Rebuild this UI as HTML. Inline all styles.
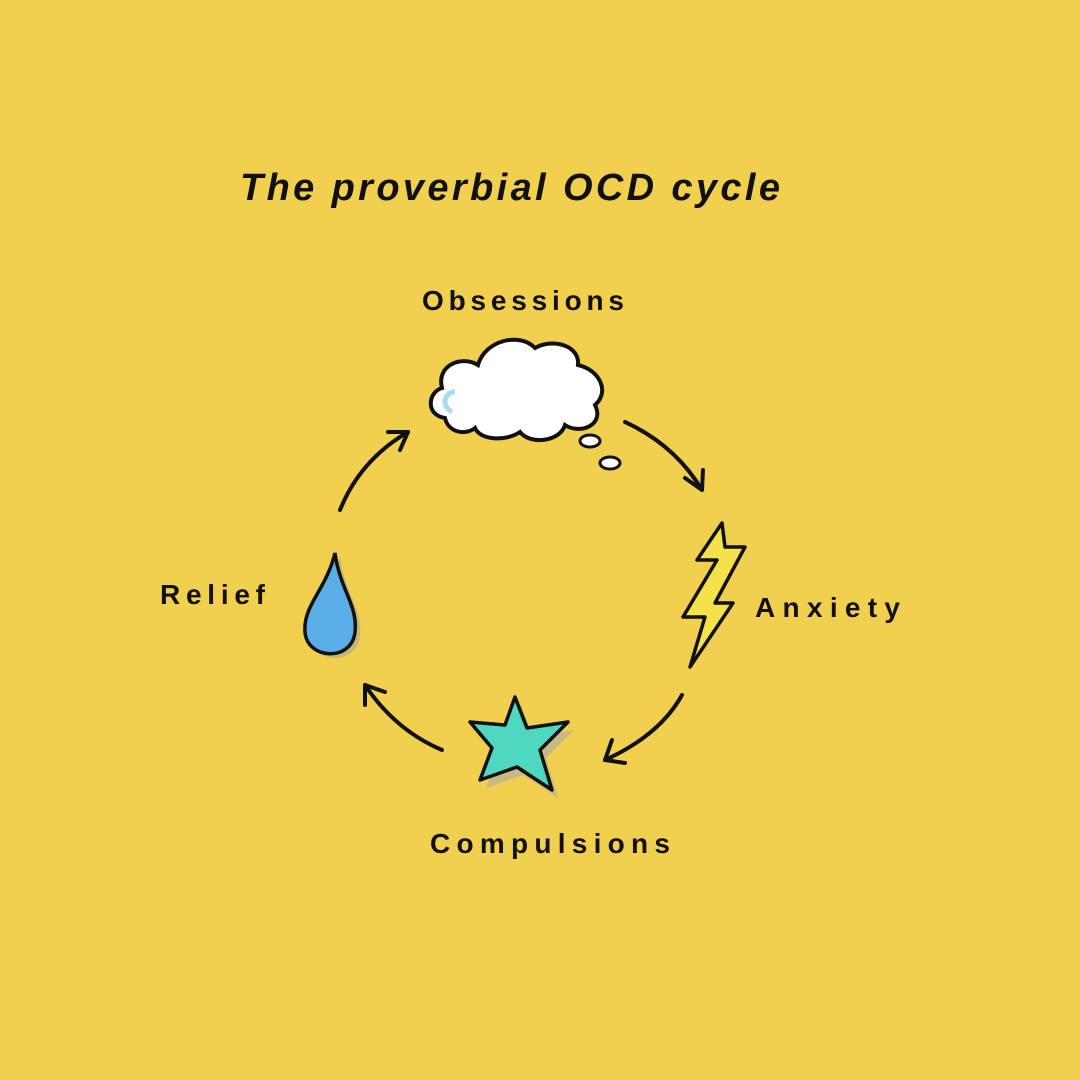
<!DOCTYPE html>
<html><head><meta charset="utf-8"><style>
html,body{margin:0;padding:0;background:#F2D04F;}
svg{display:block}
text{font-family:"Liberation Sans",sans-serif;font-weight:bold;fill:#111;}
</style></head><body>
<svg width="1080" height="1080" viewBox="0 0 1080 1080" xmlns="http://www.w3.org/2000/svg">
<rect width="1080" height="1080" fill="#F2D04F"/>
<text x="240" y="200" font-size="38" font-style="italic" textLength="540">The proverbial OCD cycle</text>
<text x="422" y="310" font-size="28" textLength="202">Obsessions</text>
<text x="755" y="617" font-size="28" textLength="145">Anxiety</text>
<text x="160" y="604" font-size="28" textLength="105">Relief</text>
<text x="430" y="853" font-size="28" textLength="240">Compulsions</text>
<!-- cloud -->
<path d="M445,418 C425,415 428,392 442,388 C436,365 462,355 478,365 C485,340 520,332 535,348 C552,338 580,345 578,365 C600,370 610,392 595,405 C605,425 580,435 565,425 C560,442 530,445 520,432 C505,442 480,440 475,428 C465,436 448,432 445,418 Z" fill="#fff" stroke="#111" stroke-width="4"/>
<path d="M452,412 C440,405 445,392 455,392" fill="none" stroke="#a8dcef" stroke-width="5"/>
<ellipse cx="590" cy="441" rx="10" ry="6" fill="#fff" stroke="#111" stroke-width="3"/>
<ellipse cx="610" cy="463" rx="10" ry="6" fill="#fff" stroke="#111" stroke-width="3"/>
<!-- bolt -->
<polygon points="722,523 697,560 717,560 683,617 705,617 690,667 733,603 715,603 745,547 725,547" fill="#F5E24A" stroke="#111" stroke-width="3.5" stroke-linejoin="round"/>
<!-- star -->
<polygon points="515,697 527,728 568,722 540,750 552,790 517,767 480,780 492,748 470,722 505,725" fill="#aaa" opacity="0.6" transform="translate(6,8)"/>
<polygon points="515,697 527,728 568,722 540,750 552,790 517,767 480,780 492,748 470,722 505,725" fill="#4ED8C0" stroke="#111" stroke-width="3.5" stroke-linejoin="round"/>
<!-- drop -->
<path d="M335,553 C326,590 303,605 305,632 C307,660 352,662 355,632 C358,605 340,590 335,553 Z" fill="#999" opacity="0.5" transform="translate(5,4)"/>
<path d="M335,553 C326,590 303,605 305,632 C307,660 352,662 355,632 C358,605 340,590 335,553 Z" fill="#5AAEE8" stroke="#111" stroke-width="3.5"/>
<!-- arrows -->
<g fill="none" stroke="#111" stroke-width="4" stroke-linecap="round" stroke-linejoin="round">
<path d="M625,422 Q675,445 702,490"/><path d="M685,478 L702,490 L703,470"/>
<path d="M682,695 Q660,735 605,760"/><path d="M612,740 L605,760 L625,763"/>
<path d="M442,750 Q395,730 365,685"/><path d="M365,705 L365,685 L385,692"/>
<path d="M340,510 Q360,460 408,432"/><path d="M388,432 L408,432 L400,450"/>
</g>
</svg>
</body></html>
